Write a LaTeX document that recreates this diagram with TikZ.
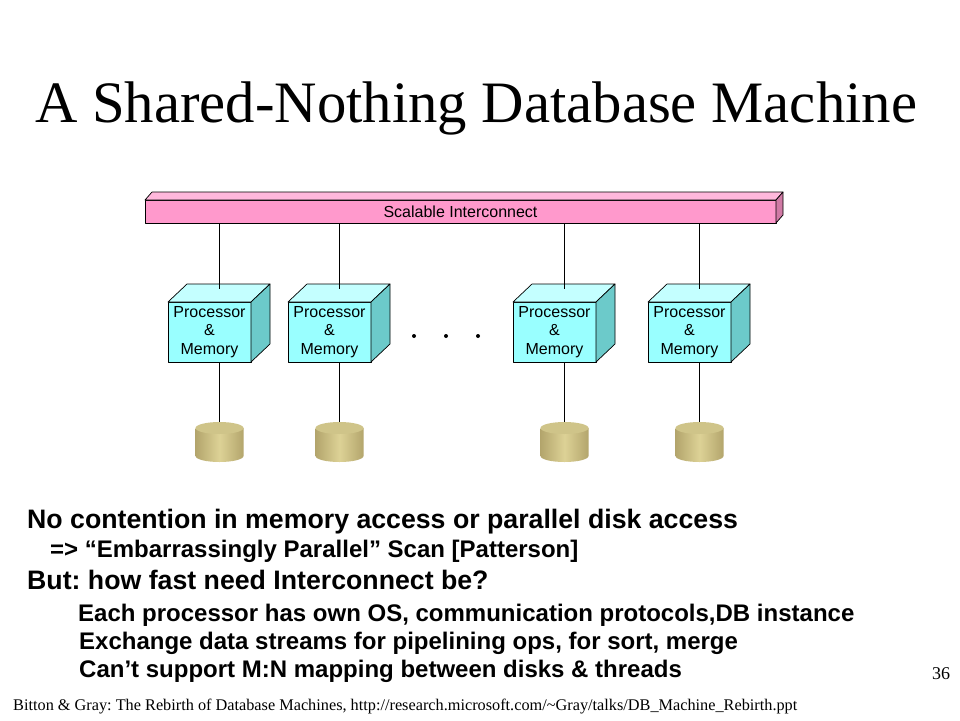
\documentclass[tikz,border=0pt]{standalone}
\usepackage{graphicx}
\usepackage{fontspec}
\setmainfont{Liberation Serif}
\newfontfamily\arial{Liberation Sans}
\usetikzlibrary{calc}
\definecolor{cyanfront}{HTML}{99FFFF}
\definecolor{cyantop}{HTML}{C4FFFF}
\definecolor{cyanside}{HTML}{6CCACA}
\definecolor{pinkfront}{HTML}{FF99CC}
\definecolor{pinktop}{HTML}{FFB8DC}
\definecolor{pinkside}{HTML}{D07AA5}
\definecolor{diskedge}{HTML}{B3A56C}
\definecolor{diskmid}{HTML}{DDD296}
\definecolor{disktop}{HTML}{CFC489}
\frenchspacing
\begin{document}
\begin{tikzpicture}[x=1pt,y=-1pt,
  face/.style={draw=black,line width=0.7pt,line join=round},
  procbox/.style={face,fill=cyanfront,minimum width=83pt,minimum height=60pt,inner sep=0pt,outer sep=0pt,align=center,font=\arial\fontsize{16}{18.5}\selectfont},
  busbar/.style={face,fill=pinkfront,minimum width=631pt,minimum height=23pt,inner sep=0pt,outer sep=0pt,font=\arial\fontsize{16}{18}\selectfont},
  disk/.style={minimum width=48pt,minimum height=40pt,inner sep=0pt,outer sep=0pt},
  wire/.style={draw=black,line width=0.7pt},
  txt/.style={inner sep=0pt,anchor=base west}]
\useasboundingbox (0,0) rectangle (960,720);
\fill[white] (0,0) rectangle (960,720);

% title
\node[txt,font=\fontsize{58.7}{64}\selectfont] (title) at (35,122) {A Shared-Nothing Database Machine};

% interconnect bar
\node[busbar] (bus) at (460.5,211.5) {Scalable Interconnect};
\draw[face,fill=pinktop] (bus.north west) -- ($(bus.north west)+(7,-8)$) -- ($(bus.north east)+(7,-8)$) -- (bus.north east) -- cycle;
\draw[face,fill=pinkside] (bus.north east) -- ($(bus.north east)+(7,-8)$) -- ($(bus.south east)+(7,-8)$) -- (bus.south east) -- cycle;

% processor boxes
\node[procbox] (p1) at (209.5,332) {Processor\\\&\\Memory};
\node[procbox] (p2) at (329.5,332) {Processor\\\&\\Memory};
\node[procbox] (p3) at (554.5,332) {Processor\\\&\\Memory};
\node[procbox] (p4) at (689.5,332) {Processor\\\&\\Memory};
\foreach \p in {p1,p2,p3,p4}{
  \draw[face,fill=cyantop] (\p.north west) -- ($(\p.north west)+(19,-18)$) -- ($(\p.north east)+(19,-18)$) -- (\p.north east) -- cycle;
  \draw[face,fill=cyanside] (\p.north east) -- ($(\p.north east)+(19,-18)$) -- ($(\p.south east)+(19,-18)$) -- (\p.south east) -- cycle;
  \coordinate (\p t) at ($(\p.north)+(10,-13)$);
}

% disks
\node[disk] (d1) at (219.5,442) {};
\node[disk] (d2) at (339.5,442) {};
\node[disk] (d3) at (564.5,442) {};
\node[disk] (d4) at (699.5,442) {};

% wires
\foreach \i in {1,2,3,4}{
  \draw[wire] (bus.south -| p\i t) -- (p\i t);
  \draw[wire] (d\i.north |- p\i.south) -- (d\i.north);
}

% disk shapes
\foreach \d in {d1,d2,d3,d4}{
  \shade[left color=diskedge,right color=diskedge,middle color=diskmid]
    ($(\d.center)+(-24,-14)$) -- ($(\d.center)+(-24,14)$)
    arc[start angle=180,end angle=360,x radius=24pt,y radius=6pt]
    -- ($(\d.center)+(24,-14)$) -- cycle;
  \fill[disktop] ($(\d.center)+(0,-14)$) ellipse[x radius=24pt,y radius=6pt];
}

% dots
\fill (414,336) circle[radius=2pt];
\fill (446,336) circle[radius=2pt];
\fill (478,336) circle[radius=2pt];

% body text
\node[txt,font=\arial\bfseries\fontsize{26.7}{32}\selectfont] (l1) at (27,528) {No contention in memory access or parallel disk access};
\node[txt,font=\arial\bfseries\fontsize{24}{28}\selectfont] (l2) at (50,557) {=> “Embarrassingly Parallel” Scan [Patterson]};
\node[txt,font=\arial\bfseries\fontsize{26.7}{32}\selectfont] (l3) at (27,589) {But: how fast need Interconnect be?};
\node[txt,font=\arial\bfseries\fontsize{24}{28}\selectfont] (l4) at (78,621) {Each processor has own OS, communication protocols,DB instance};
\node[txt,font=\arial\bfseries\fontsize{24}{28}\selectfont] (l5) at (79,649) {Exchange data streams for pipelining ops, for sort, merge};
\node[txt,font=\arial\bfseries\fontsize{24}{28}\selectfont] (l6) at (79,677) {Can’t support M:N mapping between disks \& threads};

% footer and page number
\node[txt,font=\fontsize{14}{16}\selectfont] (foot) at (13,710) {\resizebox{784pt}{!}{Bitton \& Gray: The Rebirth of Database Machines, http://research.microsoft.com/\textasciitilde Gray/talks/DB\_Machine\_Rebirth.ppt}};
\node[txt,font=\fontsize{18}{20}\selectfont] (num) at (932,679) {36};
\end{tikzpicture}
\end{document}
